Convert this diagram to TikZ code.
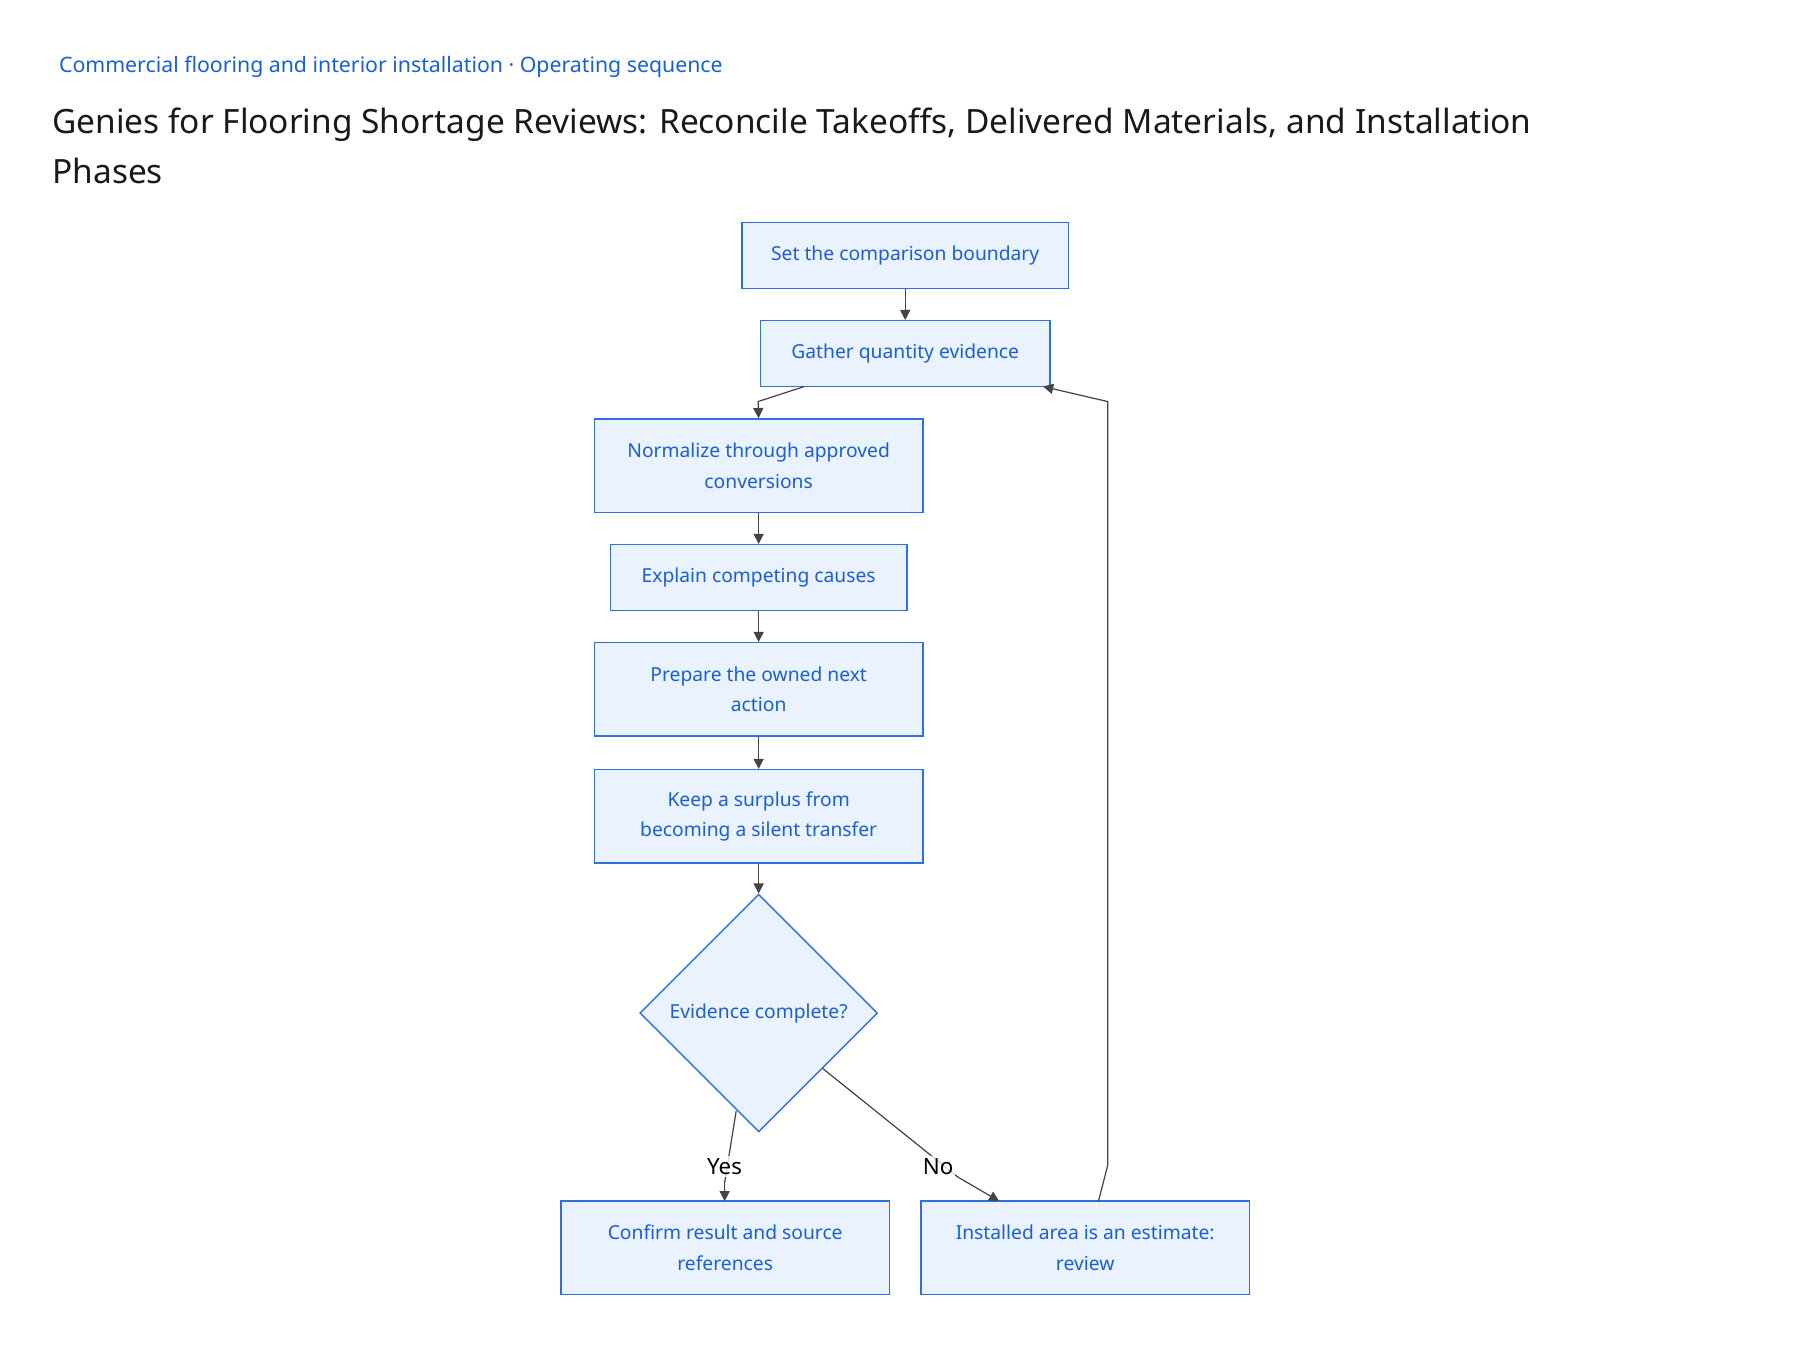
\documentclass[tikz,border=0pt]{standalone}
\usepackage{fontspec}
\setmainfont{Noto Sans}
\usetikzlibrary{shapes.geometric,arrows.meta}
\definecolor{bfill}{HTML}{EAF2FD}
\definecolor{bdraw}{HTML}{2F6FE0}
\definecolor{btext}{HTML}{1A5FD6}
\definecolor{ln}{HTML}{444444}
\begin{document}
\begin{tikzpicture}[x=0.02cm,y=-0.02cm,
 box/.style={draw=bdraw,fill=bfill,text=btext,font=\fontsize{9.5}{15}\selectfont,align=center,inner sep=0pt,line width=0.7pt},
 dia/.style={box,diamond,minimum width=4.12cm,minimum height=4.12cm,shape aspect=1},
 arr/.style={draw=ln,line width=0.6pt,-{Triangle[length=5pt,width=5pt]}},
 lab/.style={fill=white,fill opacity=0.8,text opacity=1,text=black,font=\fontsize{11}{13}\selectfont,inner sep=1pt}]
\useasboundingbox (0,0) rectangle (1560,1170);
\node[anchor=base west,text=btext,font=\fontsize{10.5}{13}\selectfont] (sub) at (45,63) {Commercial flooring and interior installation · Operating sequence};
\node[anchor=base west,text=black!90,font=\fontsize{16.5}{22}\selectfont,align=left,inner sep=0pt] (ttl) at (45,116) {Genies for Flooring Shortage Reviews: Reconcile Takeoffs, Delivered Materials, and Installation};
\node[anchor=base west,text=black!90,font=\fontsize{16.5}{22}\selectfont,inner sep=0pt] (ttl2) at (45,159) {Phases};
\node[box,minimum width=5.66cm,minimum height=1.14cm] (b1) at (784.5,221.5) {Set the comparison boundary};
\node[box,minimum width=5.02cm,minimum height=1.14cm] (b2) at (784.5,306.5) {Gather quantity evidence};
\node[box,minimum width=5.7cm,minimum height=1.62cm] (b3) at (657.5,403.5) {Normalize through approved\\conversions};
\node[box,minimum width=5.14cm,minimum height=1.14cm] (b4) at (657.5,500.5) {Explain competing causes};
\node[box,minimum width=5.7cm,minimum height=1.62cm] (b5) at (657.5,597.5) {Prepare the owned next\\action};
\node[box,minimum width=5.7cm,minimum height=1.62cm] (b6) at (657.5,707.5) {Keep a surplus from\\becoming a silent transfer};
\node[dia] (d) at (657.5,878) {Evidence complete?};
\node[box,minimum width=5.7cm,minimum height=1.62cm] (yes) at (628.5,1081.5) {Confirm result and source\\references};
\node[box,minimum width=5.7cm,minimum height=1.62cm] (no) at (940.5,1081.5) {Installed area is an estimate:\\review};
\coordinate (c1) at (657,348);
\coordinate (l1) at (952,1041); \coordinate (l2) at (960,1010); \coordinate (l3) at (960,348); \coordinate (l4) at (904,335);
\coordinate (y1) at (638,963); \coordinate (y2) at (628,1025); \coordinate (y3) at (628,1041);
\coordinate (n1) at (713,926); \coordinate (n2) at (830,1020); \coordinate (n3) at (866,1041);
\draw[arr] (b1) -- (b2);
\draw[arr] (697,335) -- (c1) -- (b3.north);
\draw[arr] (b3) -- (b4);
\draw[arr] (b4) -- (b5);
\draw[arr] (b5) -- (b6);
\draw[arr] (b6) -- (d.north);
\draw[arr] (y1) -- (y2) -- (y3);
\draw[arr] (n1) -- (n2) -- (n3);
\draw[arr] (l1) -- (l2) -- (l3) -- (l4);
\node[lab] (ly) at (628,1011) {Yes};
\node[lab] (ln) at (813,1011) {No};
\end{tikzpicture}
\end{document}
